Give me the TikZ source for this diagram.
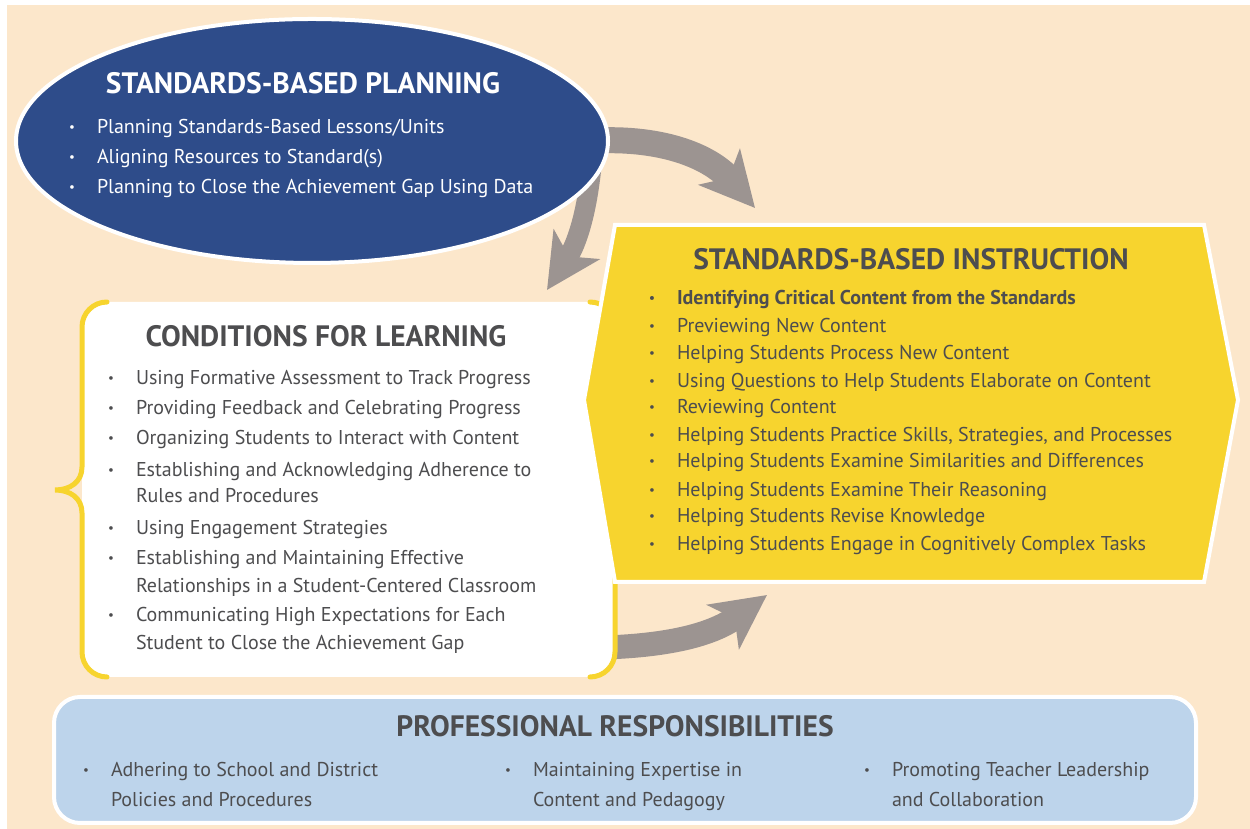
\documentclass[tikz,border=0pt]{standalone}
\usepackage{fontspec}
\setmainfont{PT Sans}
\usetikzlibrary{shapes.geometric,arrows.meta}

\definecolor{bgColor}{RGB}{252,231,203}
\definecolor{planColor}{RGB}{46,76,138}
\definecolor{instrColor}{RGB}{247,212,46}
\definecolor{arrowColor}{RGB}{156,148,145}
\definecolor{profColor}{RGB}{189,212,235}
\definecolor{textColor}{RGB}{77,77,79}
\newcommand{\itm}{\makebox[28pt][l]{\raisebox{2.2pt}{\fontsize{13}{13}\selectfont\textbullet}}}

\begin{document}
\begin{tikzpicture}[x=1pt,y=1pt,
  bodyText/.style={text=textColor,anchor=base west,inner sep=0pt,outer sep=0pt,font=\fontsize{20}{24}\selectfont},
  planText/.style={bodyText,text=white},
  titleText/.style={text=textColor,anchor=base,inner sep=0pt,outer sep=0pt,font=\fontsize{29.5}{34}\selectfont\bfseries},
  flowArrow/.style={draw=arrowColor,line width=24pt,-{Stealth[length=54pt,width=54pt,inset=14pt]}},
  bracketLine/.style={draw=instrColor,line width=5pt,line cap=round}]
\path[use as bounding box,fill=white] (0,0) rectangle (1250,829);
\path[fill=bgColor] (7,0) rectangle (1250,824);

% arrows between the parts
\node[ellipse,minimum width=592pt,minimum height=244pt,inner sep=0pt] (plan) at (312,688) {};
\node[rectangle,minimum width=533pt,minimum height=375pt,inner sep=0pt] (cond) at (348.5,339.5) {};
\coordinate (a1e) at (755,621);
\coordinate (a2e) at (547,539);
\coordinate (a3e) at (767,234);

\draw[flowArrow,line width=26pt] ([xshift=-20pt]plan.east) to[out=4,in=131] (a1e);
\draw[flowArrow,line width=20pt] ([shift={(-16pt,-18pt)}]plan.east) to[out=-95,in=57] (a2e);
\draw[flowArrow] ([shift={(-10pt,-158pt)}]cond.east) to[out=2,in=216] (a3e);

% standards-based planning
\path[fill=planColor,draw=white,line width=4pt] (plan.center) ellipse[x radius=296,y radius=122];

\node[titleText,text=white] (planTitle) at (303,735) {STANDARDS-BASED PLANNING};
\node[planText] (plan1) at (69,695) {\itm Planning Standards-Based Lessons/Units};
\node[planText] (plan2) at (69,665) {\itm Aligning Resources to Standard(s)};
\node[planText] (plan3) at (69,635) {\itm Planning to Close the Achievement Gap Using Data};

% conditions for learning
\path[fill=white,rounded corners=25pt] (82,152) rectangle (615,527);
\path[bracketLine] (107,527) arc[start angle=90,end angle=180,radius=25]
	-- (82,362) .. controls (82,347) and (70,339) .. (55,339)
	.. controls (70,339) and (82,331) .. (82,316)
	-- (82,177) arc[start angle=180,end angle=270,radius=25];
\path[bracketLine] (590,527) arc[start angle=90,end angle=0,radius=25]
	-- (615,177) arc[start angle=0,end angle=-90,radius=25];

\node[titleText] (condTitle) at (326,482) {CONDITIONS FOR LEARNING};
\node[bodyText] (cond1) at (108,444) {\itm Using Formative Assessment to Track Progress};
\node[bodyText] (cond2) at (108,414) {\itm Providing Feedback and Celebrating Progress};
\node[bodyText] (cond3) at (108,384) {\itm Organizing Students to Interact with Content};
\node[bodyText] (cond4) at (108,352) {\itm Establishing and Acknowledging Adherence to};
\node[bodyText] (cond4b) at (136,326) {Rules and Procedures};
\node[bodyText] (cond5) at (108,294) {\itm Using Engagement Strategies};
\node[bodyText] (cond6) at (108,264) {\itm Establishing and Maintaining Effective};
\node[bodyText] (cond6b) at (136,236) {Relationships in a Student-Centered Classroom};
\node[bodyText] (cond7) at (108,207) {\itm Communicating High Expectations for Each};
\node[bodyText] (cond7b) at (136,179) {Student to Close the Achievement Gap};

% standards-based instruction
\path[fill=instrColor,draw=white,line width=4pt,line join=miter] (615,604) -- (1204,604) -- (1238,429)
	-- (1204,247) -- (615,247) -- (584,429) -- cycle;

\node[titleText] (instrTitle) at (911,559) {STANDARDS-BASED INSTRUCTION};
\node[bodyText,font=\fontsize{20}{24}\selectfont\bfseries] (instr1) at (649,524) {\itm Identifying Critical Content from the Standards};
\node[bodyText] (instr2) at (649,496) {\itm Previewing New Content};
\node[bodyText] (instr3) at (649,469) {\itm Helping Students Process New Content};
\node[bodyText] (instr4) at (649,441) {\itm Using Questions to Help Students Elaborate on Content};
\node[bodyText] (instr5) at (649,415) {\itm Reviewing Content};
\node[bodyText] (instr6) at (649,387) {\itm Helping Students Practice Skills, Strategies, and Processes};
\node[bodyText] (instr7) at (649,361) {\itm Helping Students Examine Similarities and Differences};
\node[bodyText] (instr8) at (649,332) {\itm Helping Students Examine Their Reasoning};
\node[bodyText] (instr9) at (649,306) {\itm Helping Students Revise Knowledge};
\node[bodyText] (instr10) at (649,278) {\itm Helping Students Engage in Cognitively Complex Tasks};

% professional responsibilities
\path[fill=profColor,draw=white,line width=4pt,rounded corners=26pt] (54,6) rectangle (1196,132);

\node[titleText] (profTitle) at (615,92) {PROFESSIONAL RESPONSIBILITIES};
\node[bodyText] (prof1) at (83,52) {\itm Adhering to School and District};
\node[bodyText] (prof1b) at (111,22) {Policies and Procedures};
\node[bodyText] (prof2) at (505,52) {\itm Maintaining Expertise in};
\node[bodyText] (prof2b) at (533,22) {Content and Pedagogy};
\node[bodyText] (prof3) at (864,52) {\itm Promoting Teacher Leadership};
\node[bodyText] (prof3b) at (892,22) {and Collaboration};
\end{tikzpicture}
\end{document}
